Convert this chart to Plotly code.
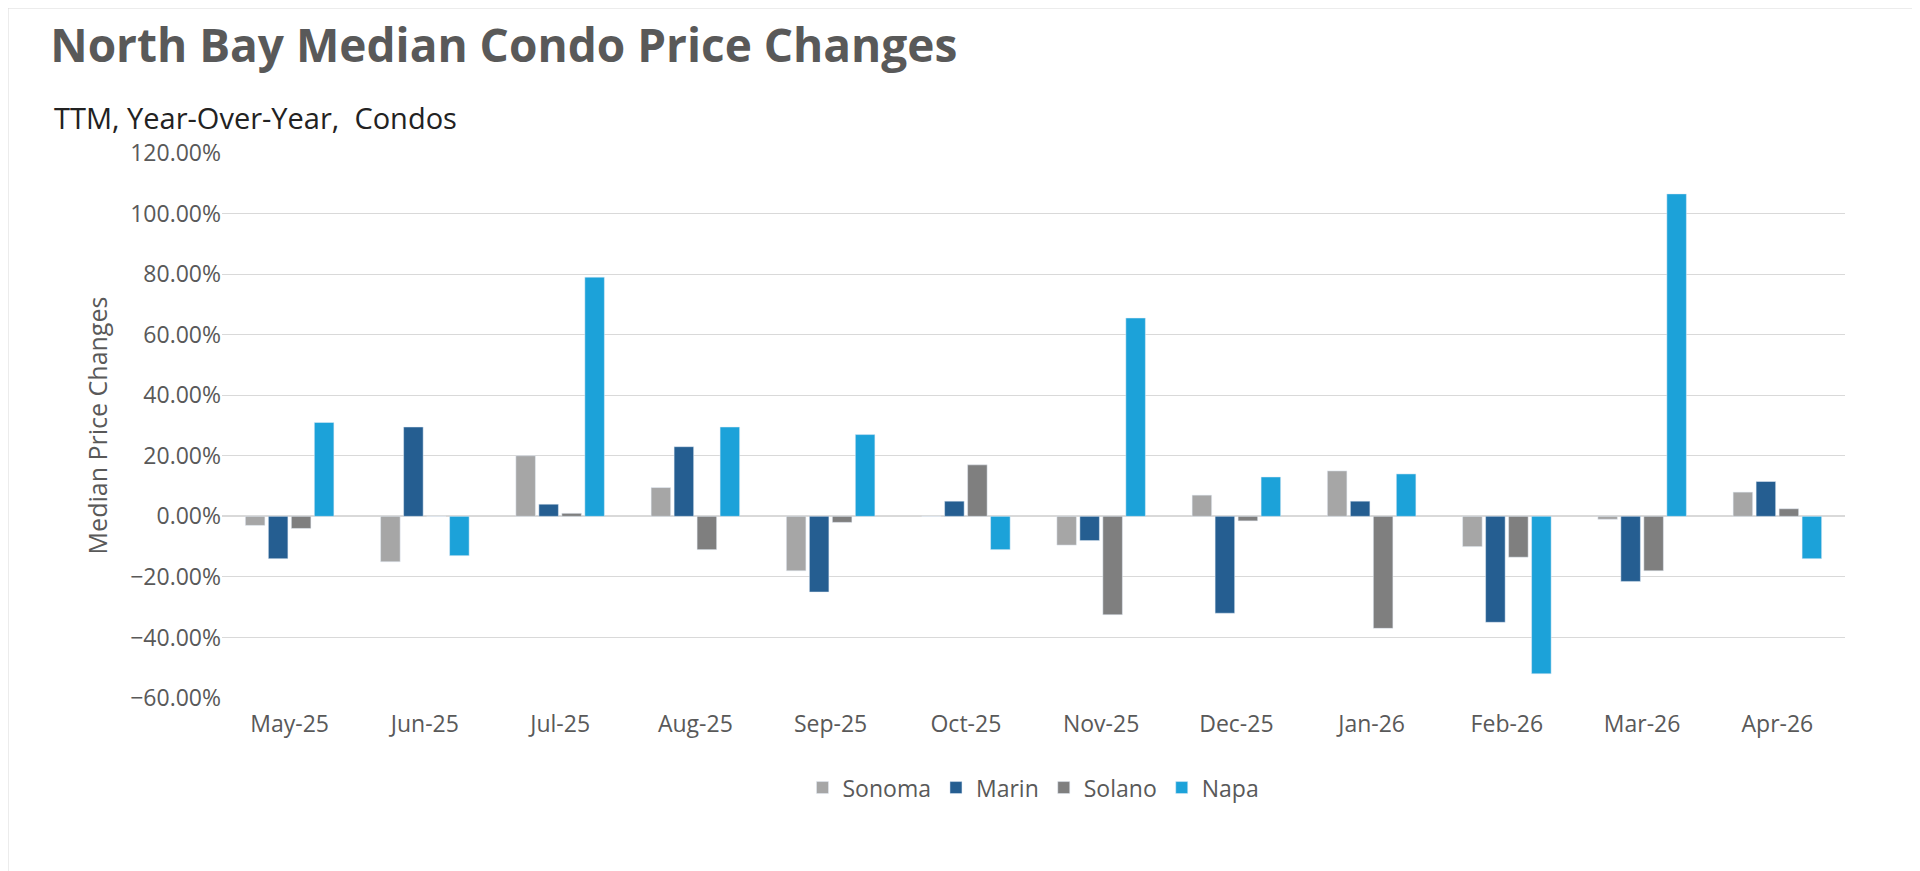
import plotly.graph_objects as go

months = ["May-25","Jun-25","Jul-25","Aug-25","Sep-25","Oct-25","Nov-25","Dec-25","Jan-26","Feb-26","Mar-26","Apr-26"]
sonoma = [-3,-15,20,9.5,-18,0,-9.5,7,15,-10,-1,8]
marin = [-14,29.5,4,23,-25,5,-8,-32,5,-35,-21.5,11.5]
solano = [-4,0,1,-11,-2,17,-32.5,-1.5,-37,-13.5,-18,2.5]
napa = [31,-13,79,29.5,27,-11,65.5,13,14,-52,106.5,-14]

series = [("Sonoma",sonoma,"#A6A6A6"),("Marin",marin,"#255E91"),("Solano",solano,"#7F7F7F"),("Napa",napa,"#1CA2D9")]
fig = go.Figure()
for n,v,c in series:
    fig.add_bar(name=n,x=months,y=[x/100 for x in v],marker_color=c)

fig.update_layout(
    width=1920,height=871,paper_bgcolor="white",plot_bgcolor="white",
    font=dict(family="Open Sans, Liberation Sans, sans-serif",color="#595959",size=22),
    margin=dict(l=214,r=83,t=145,b=181),
    bargap=0.32,bargroupgap=0.15,barmode="group",
    title=dict(text="<b>North Bay Median Condo Price Changes</b>",x=0.022,xanchor="left",y=0.975,yanchor="top",
               font=dict(size=46,color="#595959")),
    legend=dict(orientation="h",x=0.5,xanchor="center",y=-0.125,yanchor="top",font=dict(size=23),traceorder="normal"),
    annotations=[dict(text="TTM, Year-Over-Year,  Condos",xref="paper",yref="paper",x=-0.105,y=1+(145-88)/545,
                      xanchor="left",yanchor="top",showarrow=False,font=dict(size=29,color="#222"))],
    shapes=[dict(type="rect",xref="paper",yref="paper",x0=-214/1623,x1=1+83/1623,y0=-181/545,y1=1+145/545,
                 line=dict(color="#D9D9D9",width=1))],
)
fig.update_yaxes(range=[-0.6,1.2],dtick=0.2,tickformat=".2%",gridcolor="#D9D9D9",zeroline=True,zerolinecolor="#D9D9D9",
                 zerolinewidth=1.5,title=dict(text="Median Price Changes",font=dict(size=25)),ticks="",tickfont=dict(size=23))
fig.update_xaxes(showline=False,tickfont=dict(size=23),ticklabelstandoff=10)
fig.write_html("out.html")
